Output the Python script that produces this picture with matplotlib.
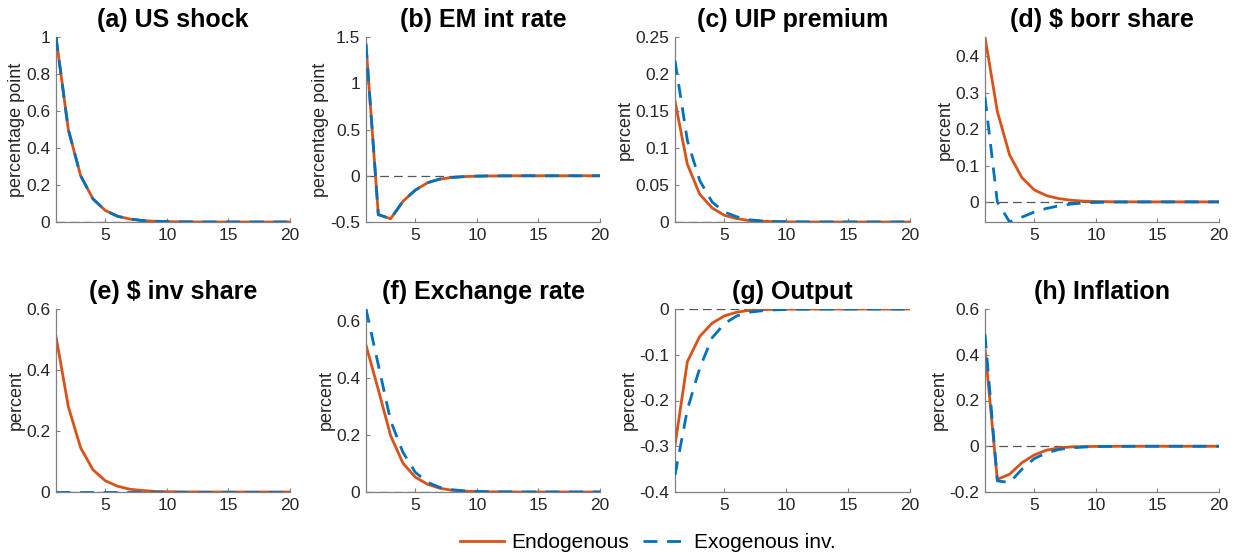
import matplotlib
matplotlib.use("Agg")
import matplotlib.pyplot as plt
import numpy as np

plt.rcParams['font.family'] = ['Liberation Sans', 'DejaVu Sans']

periods = list(range(1, 21))

titles = ["(a) US shock", "(b) EM int rate", "(c) UIP premium", "(d) $ borr share",
          "(e) $ inv share", "(f) Exchange rate", "(g) Output", "(h) Inflation"]
ylabels = ["percentage point", "percentage point", "percent", "percent",
           "percent", "percent", "percent", "percent"]

us_shock_endo = [1.0, 0.5, 0.25, 0.125, 0.0625, 0.031, 0.016, 0.008, 0.004, 0.002,
                 0.001, 0.0005, 0.0002, 0.0001, 0, 0, 0, 0, 0, 0]
us_shock_exo = [1.0, 0.5, 0.25, 0.125, 0.0625, 0.031, 0.016, 0.008, 0.004, 0.002,
                0.001, 0.0005, 0.0002, 0.0001, 0, 0, 0, 0, 0, 0]

em_rate_endo = [1.42, -0.42, -0.465, -0.276, -0.156, -0.075, -0.036, -0.018, -0.009, -0.004,
                -0.002, -0.001, -0.0005, 0, 0, 0, 0, 0, 0, 0]
em_rate_exo = [1.42, -0.42, -0.465, -0.276, -0.156, -0.075, -0.036, -0.018, -0.009, -0.004,
               -0.002, -0.001, -0.0005, 0, 0, 0, 0, 0, 0, 0]

uip_endo = [0.163, 0.078, 0.0375, 0.019, 0.009, 0.0045, 0.002, 0.001, 0.0005, 0.0002,
            0.0001, 0, 0, 0, 0, 0, 0, 0, 0, 0]
uip_exo = [0.218, 0.11, 0.056, 0.027, 0.0135, 0.007, 0.003, 0.0015, 0.0007, 0.0003,
           0.0001, 0, 0, 0, 0, 0, 0, 0, 0, 0]

borr_endo = [0.4536, 0.249, 0.129, 0.0665, 0.033, 0.017, 0.009, 0.0045, 0.002, 0.001,
             0.0005, 0.0002, 0.0001, 0, 0, 0, 0, 0, 0, 0]
borr_exo = [0.288, 0.0, -0.0554, -0.042, -0.028, -0.018, -0.011, -0.006, -0.003, -0.0015,
            -0.0008, -0.0004, -0.0002, -0.0001, 0, 0, 0, 0, 0, 0]

inv_endo = [0.51, 0.28, 0.145, 0.073, 0.037, 0.019, 0.009, 0.005, 0.002, 0.001,
            0.0005, 0.0002, 0.0001, 0, 0, 0, 0, 0, 0, 0]
inv_exo = [0, 0, 0, 0, 0, 0, 0, 0, 0, 0, 0, 0, 0, 0, 0, 0, 0, 0, 0, 0]

fx_endo = [0.514, 0.358, 0.197, 0.101, 0.052, 0.027, 0.013, 0.006, 0.003, 0.0015,
           0.0007, 0.0003, 0.0001, 0, 0, 0, 0, 0, 0, 0]
fx_exo = [0.6407, 0.445, 0.249, 0.139, 0.069, 0.034, 0.016, 0.008, 0.004, 0.002,
          0.001, 0.0005, 0.0002, 0.0001, 0, 0, 0, 0, 0, 0]

output_endo = [-0.298, -0.115, -0.060, -0.031, -0.015, -0.007, -0.003, -0.0015, -0.0007, -0.0003,
               -0.0001, 0, 0, 0, 0, 0, 0, 0, 0, 0]
output_exo = [-0.363, -0.22, -0.129, -0.063, -0.032, -0.015, -0.007, -0.004, -0.002, -0.001,
              -0.0005, -0.0002, -0.0001, 0, 0, 0, 0, 0, 0, 0]

infl_endo = [0.428, -0.145, -0.122, -0.072, -0.038, -0.017, -0.007, -0.003, -0.0015, -0.0007,
             -0.0003, -0.0001, 0, 0, 0, 0, 0, 0, 0, 0]
infl_exo = [0.49, -0.151, -0.159, -0.10, -0.054, -0.029, -0.014, -0.007, -0.0035, -0.0017,
            -0.0008, -0.0004, -0.0002, -0.0001, 0, 0, 0, 0, 0, 0]

endo_series = [us_shock_endo, em_rate_endo, uip_endo, borr_endo,
               inv_endo, fx_endo, output_endo, infl_endo]
exo_series = [us_shock_exo, em_rate_exo, uip_exo, borr_exo,
              inv_exo, fx_exo, output_exo, infl_exo]

ylims = [(0, 1), (-0.5, 1.5), (0, 0.25), (-0.0554, 0.4536),
         (0, 0.6), (0, 0.6407), (-0.4, 0), (-0.2, 0.6)]
yticks = [[0, 0.2, 0.4, 0.6, 0.8, 1],
          [-0.5, 0, 0.5, 1, 1.5],
          [0, 0.05, 0.1, 0.15, 0.2, 0.25],
          [0, 0.1, 0.2, 0.3, 0.4],
          [0, 0.2, 0.4, 0.6],
          [0, 0.2, 0.4, 0.6],
          [-0.4, -0.3, -0.2, -0.1, 0],
          [-0.2, 0, 0.2, 0.4, 0.6]]
xticks = [5, 10, 15, 20]

ORANGE = '#D95319'
BLUE = '#0072BD'
SPINE = '#808080'
TXT = '#262626'

fig = plt.figure(figsize=(12.34, 5.57), dpi=100)

lefts = [56, 366, 675, 985]
rights = [290, 600, 910, 1219]
rows = [(37, 222), (309, 492)]
W, H = 1234, 557

def fmt(v):
    s = ('%g' % v)
    if s == '-0':
        s = '0'
    return s

endo_line = exo_line = None
for i in range(8):
    r, c = divmod(i, 4)
    top, bot = rows[r]
    ax = fig.add_axes([lefts[c] / W, 1 - bot / H, (rights[c] - lefts[c]) / W, (bot - top) / H])
    ax.axhline(0, color='#555555', lw=0.9, ls=(0, (7, 4)), zorder=1)
    endo_line, = ax.plot(periods, endo_series[i], color=ORANGE, lw=2.0, zorder=2,
                         label='Endogenous')
    exo_line, = ax.plot(periods, exo_series[i], color=BLUE, lw=2.0, ls=(0, (5, 3.5)),
                        zorder=3, label='Exogenous inv.')
    ax.set_xlim(1, 20)
    ax.set_ylim(*ylims[i])
    ax.set_xticks(xticks)
    ax.set_yticks(yticks[i])
    ax.set_yticklabels([fmt(v) for v in yticks[i]])
    ax.set_title(titles[i], fontsize=18, fontweight='bold', pad=7.5, color='black')
    ax.set_ylabel(ylabels[i], fontsize=13, color=TXT, labelpad=1)
    for s in ['top', 'right']:
        ax.spines[s].set_visible(False)
    for s in ['left', 'bottom']:
        ax.spines[s].set_color(SPINE)
        ax.spines[s].set_linewidth(0.9)
    ax.tick_params(direction='in', length=3, width=0.8, color=SPINE,
                   labelsize=12.5, labelcolor=TXT, pad=4)

fig.legend(handles=[endo_line, exo_line], labels=['Endogenous', 'Exogenous inv.'],
           loc='center', bbox_to_anchor=(648 / W, 1 - 543 / H), ncol=2, frameon=False,
           fontsize=15, handlelength=2.1, columnspacing=0.7, handletextpad=0.35)

fig.savefig('out.png', dpi=100)
